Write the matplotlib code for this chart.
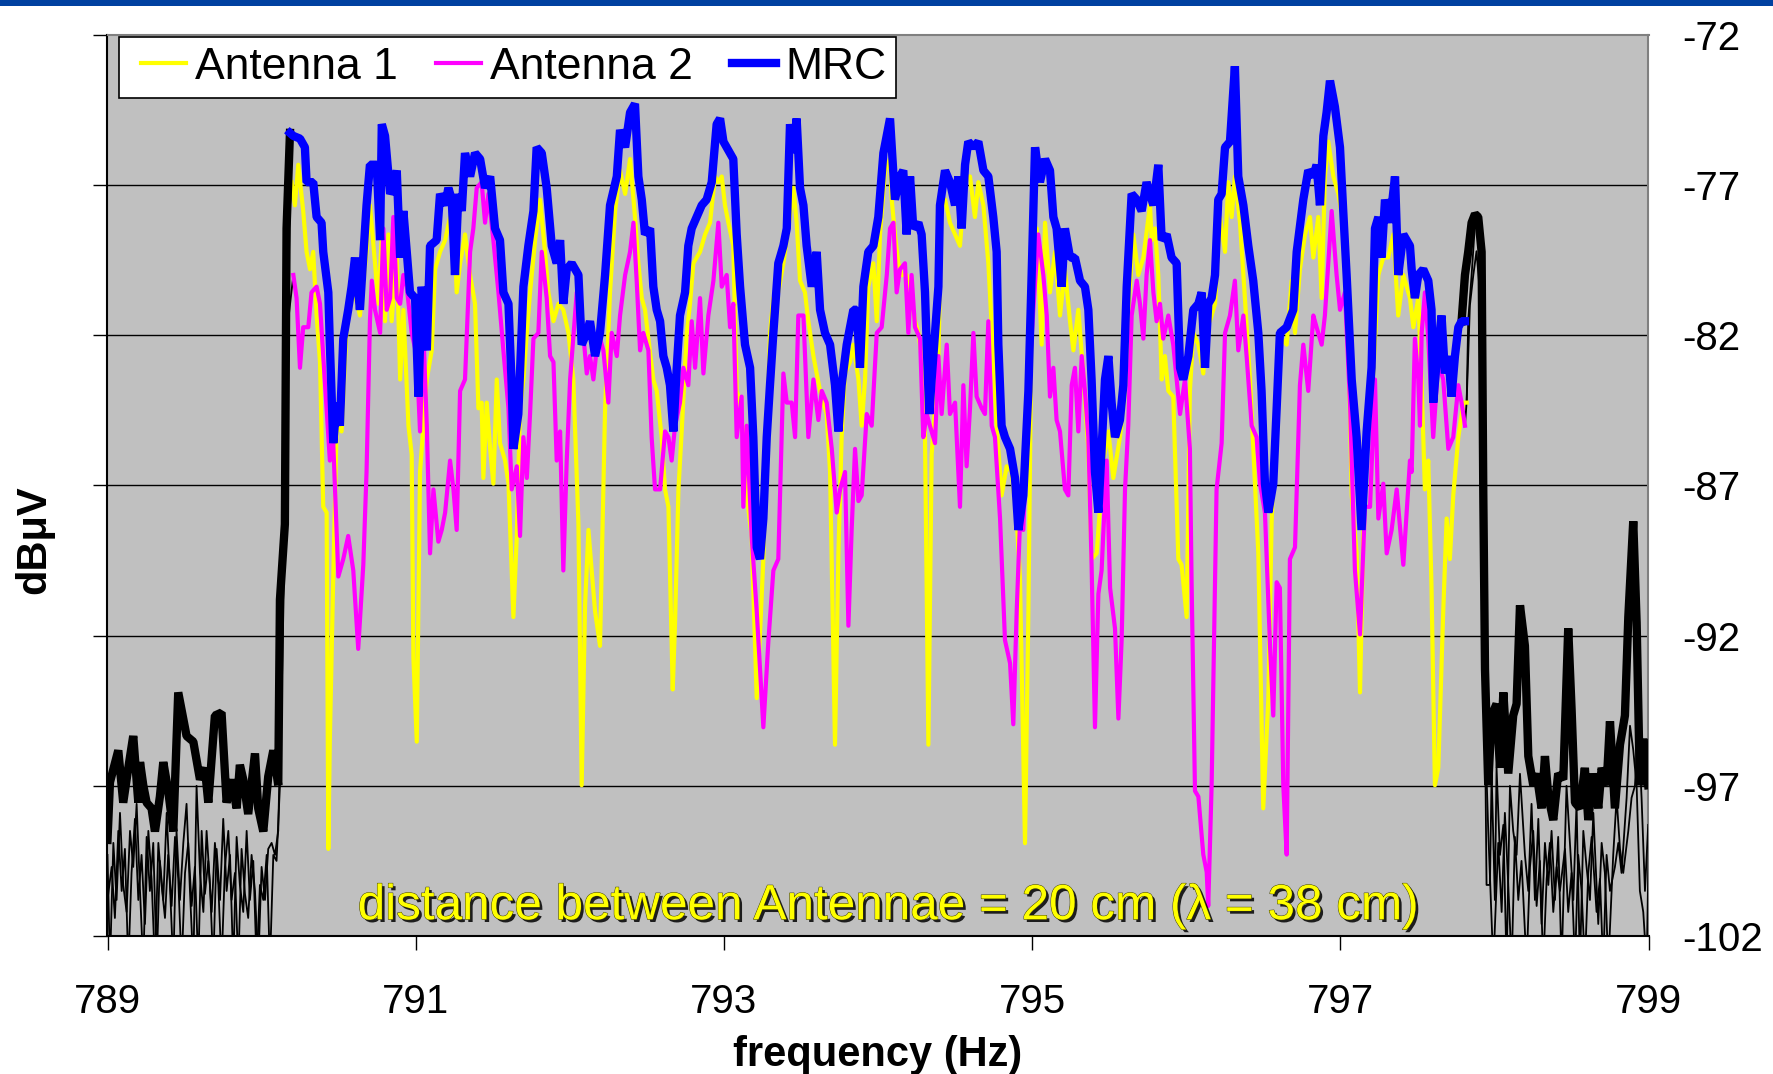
import matplotlib
matplotlib.use("Agg")
import matplotlib.pyplot as plt
import matplotlib.patheffects as pe
from matplotlib.patches import Rectangle
from matplotlib.ticker import FixedLocator
from matplotlib.legend_handler import HandlerLine2D

plt.rcParams['font.family'] = ['Liberation Sans', 'DejaVu Sans']

# ---------------- data: received level (dBuV) vs frequency (Hz) ----------------
x_ticks = [789, 791, 793, 795, 797, 799]
y_ticks = [-102, -97, -92, -87, -82, -77, -72]

# MRC, inside the signal band
mrc_f = [790.184, 790.206, 790.249, 790.281, 790.292, 790.335, 790.357, 790.389, 790.400, 790.433,
         790.443, 790.465, 790.487, 790.508, 790.530, 790.562, 790.584, 790.606, 790.638, 790.681,
         790.703, 790.747, 790.769, 790.780, 790.801, 790.834, 790.855, 790.877, 790.899, 790.920,
         790.942, 790.963, 790.996, 791.018, 791.039, 791.072, 791.093, 791.136, 791.158, 791.191,
         791.212, 791.234, 791.255, 791.277, 791.299, 791.320, 791.353, 791.385, 791.418, 791.450,
         791.483, 791.515, 791.547, 791.569, 791.602, 791.623, 791.634, 791.666, 791.699, 791.731,
         791.764, 791.785, 791.818, 791.850, 791.883, 791.915, 791.937, 791.958, 791.980, 792.012,
         792.056, 792.077, 792.110, 792.131, 792.164, 792.196, 792.229, 792.261, 792.305, 792.326,
         792.359, 792.391, 792.423, 792.445, 792.467, 792.488, 792.521, 792.542, 792.564, 792.586,
         792.607, 792.629, 792.650, 792.672, 792.694, 792.715, 792.748, 792.769, 792.791, 792.823,
         792.856, 792.888, 792.921, 792.953, 792.975, 792.997, 793.018, 793.061, 793.083, 793.105,
         793.137, 793.170, 793.191, 793.213, 793.234, 793.256, 793.278, 793.299, 793.321, 793.353,
         793.386, 793.408, 793.429, 793.451, 793.472, 793.494, 793.516, 793.537, 793.570, 793.602,
         793.624, 793.656, 793.689, 793.721, 793.743, 793.764, 793.797, 793.840, 793.862, 793.883,
         793.905, 793.937, 793.970, 794.002, 794.035, 794.078, 794.110, 794.143, 794.164, 794.186,
         794.208, 794.229, 794.262, 794.283, 794.305, 794.316, 794.333, 794.348, 794.370, 794.392,
         794.402, 794.435, 794.467, 794.500, 794.521, 794.543, 794.565, 794.586, 794.619, 794.651,
         794.684, 794.716, 794.748, 794.770, 794.781, 794.802, 794.824, 794.857, 794.889, 794.911,
         794.943, 794.976, 794.997, 795.019, 795.051, 795.084, 795.116, 795.138, 795.159, 795.192,
         795.213, 795.246, 795.278, 795.311, 795.343, 795.365, 795.386, 795.408, 795.430, 795.451,
         795.473, 795.495, 795.516, 795.538, 795.570, 795.592, 795.614, 795.646, 795.679, 795.711,
         795.743, 795.765, 795.787, 795.819, 795.841, 795.873, 795.905, 795.938, 795.960, 795.981,
         796.014, 796.046, 796.079, 796.100, 796.122, 796.143, 796.165, 796.187, 796.208, 796.230,
         796.252, 796.284, 796.316, 796.338, 796.371, 796.403, 796.435, 796.468, 796.489, 796.511,
         796.533, 796.565, 796.587, 796.608, 796.652, 796.695, 796.717, 796.760, 796.792, 796.825,
         796.846, 796.868, 796.890, 796.911, 796.933, 796.965, 796.998, 797.019, 797.041, 797.074,
         797.106, 797.138, 797.171, 797.203, 797.225, 797.247, 797.268, 797.290, 797.322, 797.355,
         797.376, 797.409, 797.452, 797.463, 797.484, 797.506, 797.538, 797.571, 797.592, 797.603,
         797.625, 797.657, 797.679, 797.701, 797.722, 797.744, 797.766, 797.787, 797.809]
mrc_db = [-75.26, -75.36, -75.45, -75.74, -76.90, -76.90, -78.06, -78.25, -79.22, -80.57,
          -82.31, -85.59, -84.24, -85.01, -82.11, -81.15, -80.38, -79.41, -81.15, -77.67,
          -76.32, -76.32, -78.83, -74.97, -75.36, -77.29, -77.09, -76.51, -79.41, -77.86,
          -79.22, -80.57, -80.76, -84.04, -80.38, -82.50, -79.02, -78.83, -77.29, -77.67,
          -77.09, -77.48, -79.99, -77.29, -77.86, -75.93, -76.71, -75.93, -76.13, -77.09,
          -76.71, -78.44, -78.83, -80.57, -80.95, -83.66, -85.78, -84.62, -80.38, -79.02,
          -77.86, -75.74, -75.93, -77.09, -79.02, -79.60, -78.83, -80.95, -79.80, -79.60,
          -79.99, -82.31, -81.92, -81.53, -82.69, -81.92, -79.99, -77.67, -76.71, -75.16,
          -75.74, -74.58, -74.29, -76.71, -77.48, -78.64, -78.44, -80.38, -81.15, -81.53,
          -82.69, -83.08, -83.66, -85.20, -83.08, -81.34, -80.57, -79.02, -78.44, -78.06,
          -77.67, -77.48, -76.90, -74.97, -74.78, -75.55, -75.74, -76.13, -78.64, -80.38,
          -82.31, -83.08, -85.39, -89.06, -89.45, -88.10, -85.39, -83.66, -81.92, -79.60,
          -79.02, -78.44, -74.97, -75.93, -74.78, -77.09, -77.67, -79.02, -80.38, -79.22,
          -81.15, -81.92, -82.31, -83.66, -85.20, -83.66, -82.31, -81.15, -81.15, -83.08,
          -80.38, -79.22, -79.02, -78.06, -75.93, -74.78, -77.48, -76.71, -76.51, -78.64,
          -76.71, -78.44, -78.25, -78.64, -80.57, -82.31, -84.62, -83.47, -81.92, -80.38,
          -77.67, -76.51, -76.90, -77.67, -76.71, -78.44, -76.32, -75.55, -75.74, -75.55,
          -76.51, -76.71, -78.06, -79.22, -82.31, -85.01, -85.39, -85.78, -86.75, -88.48,
          -87.33, -83.85, -79.99, -75.74, -76.90, -76.13, -76.51, -78.06, -78.44, -80.38,
          -78.44, -79.41, -79.41, -80.18, -80.38, -81.15, -83.47, -86.55, -87.90, -85.78,
          -83.47, -82.69, -84.24, -85.39, -84.82, -83.66, -80.38, -77.29, -77.48, -77.86,
          -76.90, -77.29, -77.67, -76.32, -78.83, -78.64, -79.41, -79.60, -83.08, -83.47,
          -82.69, -81.15, -80.95, -80.57, -83.08, -80.95, -80.76, -79.99, -77.48, -77.29,
          -75.74, -75.55, -73.04, -76.71, -77.67, -79.02, -80.18, -81.92, -83.85, -86.94,
          -87.90, -86.94, -84.43, -81.92, -81.73, -81.15, -79.22, -77.48, -76.51, -76.71,
          -76.32, -77.67, -75.36, -74.58, -73.52, -74.39, -75.74, -77.86, -79.99, -83.47,
          -85.39, -88.48, -85.20, -83.08, -78.44, -78.06, -79.41, -77.48, -78.25, -76.71,
          -79.99, -78.64, -79.02, -79.80, -80.76, -79.99, -79.80, -80.18, -81.15, -84.24,
          -82.89, -81.34, -83.27, -82.69, -84.04, -82.69, -81.73, -81.53, -81.53]

# MRC outside the band (lower and upper noise floor)
mrc_lo_f = [789.000, 789.016, 789.070, 789.102, 789.135, 789.167, 789.200, 789.211, 789.232, 789.254,
            789.286, 789.308, 789.340, 789.362, 789.394, 789.427, 789.459, 789.513, 789.557, 789.600,
            789.632, 789.654, 789.697, 789.740, 789.773, 789.805, 789.838, 789.859, 789.881, 789.913,
            789.957, 789.978, 790.011, 790.043, 790.076, 790.108, 790.119, 790.151, 790.162, 790.184]
mrc_lo_db = [-98.8, -96.88, -95.82, -97.56, -96.40, -95.34, -97.56, -96.21, -96.98, -97.56,
             -97.75, -98.52, -97.36, -96.21, -97.17, -98.52, -93.89, -95.34, -95.53, -96.79,
             -96.40, -97.56, -94.66, -94.56, -97.56, -96.79, -97.75, -96.30, -96.79, -97.94,
             -95.92, -97.75, -98.52, -96.69, -95.82, -96.98, -90.80, -88.29, -78.44, -75.26]
mrc_hi_f = [797.787, 797.809, 797.830, 797.852, 797.874, 797.895, 797.917, 797.928, 797.939, 797.960,
            797.982, 798.014, 798.036, 798.058, 798.090, 798.122, 798.144, 798.166, 798.198, 798.220,
            798.252, 798.274, 798.306, 798.328, 798.350, 798.382, 798.414, 798.447, 798.479, 798.501,
            798.523, 798.555, 798.587, 798.609, 798.642, 798.674, 798.696, 798.728, 798.750, 798.782,
            798.815, 798.847, 798.869, 798.901, 798.923, 798.944, 798.966, 798.998]
mrc_hi_db = [-81.53, -79.99, -79.22, -78.25, -77.96, -78.06, -79.22, -87.33, -93.12, -96.98,
             -94.66, -94.27, -96.40, -93.89, -96.59, -94.66, -94.27, -90.99, -92.34, -96.01,
             -96.98, -96.59, -97.75, -96.01, -97.36, -98.14, -96.59, -96.79, -91.76, -94.47,
             -97.56, -97.75, -96.40, -98.14, -96.59, -97.75, -96.40, -96.98, -94.85, -97.75,
             -95.63, -94.66, -91.38, -88.19, -91.57, -96.98, -95.43, -96.98]

# Antenna 1, inside the band
ant1_f = [790.195, 790.216, 790.238, 790.270, 790.292, 790.314, 790.335, 790.357, 790.379, 790.400,
          790.422, 790.433, 790.443, 790.465, 790.487, 790.519, 790.552, 790.595, 790.638, 790.681,
          790.703, 790.736, 790.758, 790.780, 790.801, 790.823, 790.844, 790.877, 790.899, 790.920,
          790.953, 790.974, 790.985, 791.007, 791.028, 791.072, 791.104, 791.126, 791.158, 791.191,
          791.223, 791.245, 791.266, 791.288, 791.320, 791.353, 791.385, 791.407, 791.428, 791.439,
          791.461, 791.483, 791.504, 791.526, 791.547, 791.580, 791.602, 791.634, 791.656, 791.677,
          791.699, 791.721, 791.742, 791.775, 791.807, 791.839, 791.861, 791.894, 791.926, 791.958,
          791.991, 792.023, 792.056, 792.077, 792.099, 792.121, 792.142, 792.164, 792.196, 792.229,
          792.261, 792.294, 792.326, 792.359, 792.391, 792.423, 792.445, 792.467, 792.488, 792.510,
          792.542, 792.564, 792.596, 792.618, 792.640, 792.668, 792.683, 792.705, 792.726, 792.759,
          792.780, 792.802, 792.845, 792.878, 792.910, 792.942, 792.964, 792.986, 793.007, 793.029,
          793.061, 793.083, 793.105, 793.126, 793.148, 793.180, 793.213, 793.234, 793.256, 793.278,
          793.299, 793.321, 793.353, 793.386, 793.418, 793.451, 793.472, 793.494, 793.526, 793.548,
          793.581, 793.602, 793.624, 793.667, 793.689, 793.721, 793.743, 793.764, 793.786, 793.818,
          793.840, 793.873, 793.894, 793.916, 793.937, 793.970, 793.992, 794.013, 794.046, 794.078,
          794.089, 794.110, 794.132, 794.154, 794.186, 794.208, 794.240, 794.262, 794.283, 794.305,
          794.327, 794.348, 794.370, 794.392, 794.413, 794.435, 794.467, 794.500, 794.532, 794.565,
          794.597, 794.629, 794.651, 794.684, 794.716, 794.748, 794.770, 794.802, 794.835, 794.867,
          794.900, 794.921, 794.954, 794.976, 794.997, 795.030, 795.062, 795.084, 795.116, 795.149,
          795.181, 795.213, 795.246, 795.268, 795.300, 795.332, 795.365, 795.386, 795.419, 795.441,
          795.462, 795.495, 795.527, 795.570, 795.603, 795.624, 795.657, 795.689, 795.722, 795.765,
          795.776, 795.797, 795.819, 795.841, 795.862, 795.884, 795.916, 795.949, 795.970, 796.003,
          796.024, 796.046, 796.079, 796.111, 796.133, 796.154, 796.187, 796.219, 796.252, 796.273,
          796.295, 796.316, 796.349, 796.381, 796.414, 796.446, 796.468, 796.500, 796.533, 796.554,
          796.587, 796.619, 796.652, 796.684, 796.706, 796.738, 796.771, 796.803, 796.825, 796.857,
          796.879, 796.900, 796.922, 796.955, 796.987, 797.019, 797.052, 797.074, 797.106, 797.128,
          797.149, 797.182, 797.214, 797.247, 797.279, 797.311, 797.344, 797.376, 797.409, 797.452,
          797.474, 797.506, 797.528, 797.549, 797.571, 797.592, 797.614, 797.636, 797.668, 797.690,
          797.711, 797.733, 797.766, 797.798, 797.820]
ant1_db = [-76.90, -77.67, -76.32, -77.86, -79.22, -79.80, -79.22, -81.34, -82.89, -87.71,
           -87.90, -99.10, -95.43, -90.03, -85.01, -85.20, -81.73, -80.38, -81.34, -79.22,
           -77.67, -79.60, -80.95, -78.64, -81.53, -78.64, -81.53, -79.22, -83.47, -81.15,
           -85.01, -85.97, -92.73, -95.53, -86.55, -83.47, -82.50, -79.80, -79.22, -78.83,
           -78.06, -77.86, -80.57, -79.60, -78.64, -79.99, -80.95, -84.43, -84.24, -86.75,
           -84.24, -85.78, -86.94, -83.47, -85.59, -86.17, -86.94, -91.38, -88.68, -84.43,
           -83.47, -81.92, -80.57, -78.83, -77.48, -79.22, -80.57, -81.53, -80.95, -81.15,
           -81.92, -83.47, -88.29, -96.98, -90.99, -88.48, -89.83, -91.19, -92.34, -84.43,
           -80.57, -77.86, -76.51, -77.29, -76.13, -78.06, -79.60, -80.76, -81.15, -82.11,
           -83.47, -83.85, -85.39, -87.13, -87.71, -93.79, -91.57, -87.13, -85.20, -81.92,
           -80.95, -79.60, -79.22, -78.64, -78.25, -76.71, -76.90, -76.71, -77.67, -78.25,
           -79.02, -83.85, -84.24, -85.39, -87.33, -88.68, -94.08, -91.96, -89.45, -85.39,
           -81.92, -80.76, -80.57, -79.60, -78.44, -77.09, -78.25, -80.18, -80.57, -81.53,
           -82.69, -83.27, -83.85, -84.62, -86.55, -95.63, -89.26, -85.39, -83.27, -82.89,
           -82.31, -83.47, -85.01, -83.47, -80.38, -79.60, -81.53, -78.64, -76.51, -76.13,
           -77.48, -78.64, -79.60, -79.99, -79.99, -80.38, -81.53, -81.92, -82.69, -85.39,
           -95.63, -85.97, -84.43, -82.69, -77.67, -77.48, -78.25, -78.64, -79.02, -76.71,
           -76.71, -78.06, -76.90, -77.67, -79.60, -82.69, -85.01, -87.33, -86.36, -86.55,
           -88.10, -90.03, -98.91, -91.19, -81.15, -78.44, -82.31, -78.25, -80.57, -79.22,
           -81.34, -79.80, -81.53, -82.50, -81.15, -83.27, -85.78, -89.45, -89.26, -87.71,
           -86.17, -85.20, -86.75, -85.39, -83.85, -81.15, -78.64, -79.99, -79.41, -77.67,
           -78.83, -78.44, -79.99, -83.47, -82.69, -83.85, -84.04, -89.45, -89.64, -91.38,
           -83.85, -81.92, -82.31, -83.27, -80.95, -81.53, -80.95, -78.06, -79.22, -76.90,
           -78.06, -76.71, -78.25, -80.76, -83.47, -86.94, -89.26, -97.75, -94.08, -88.29,
           -83.47, -82.11, -82.31, -80.18, -81.92, -79.80, -78.64, -78.06, -79.41, -78.06,
           -80.76, -76.71, -75.55, -76.71, -77.29, -78.25, -81.92, -87.33, -89.26, -93.89,
           -88.68, -84.04, -83.27, -79.99, -79.41, -79.41, -78.64, -81.34, -79.99, -80.76,
           -81.73, -80.76, -83.66, -87.13, -86.17, -90.41, -96.98, -96.40, -91.19, -88.10,
           -89.45, -87.33, -85.39, -84.24, -84.24]

# Antenna 2, inside the band
ant2_f = [790.206, 790.227, 790.249, 790.270, 790.303, 790.324, 790.357, 790.379, 790.400, 790.443,
          790.465, 790.498, 790.530, 790.562, 790.595, 790.627, 790.660, 790.681, 790.703, 790.715,
          790.736, 790.769, 790.790, 790.812, 790.834, 790.855, 790.877, 790.899, 790.920, 790.942,
          790.974, 791.007, 791.028, 791.050, 791.072, 791.093, 791.115, 791.147, 791.169, 791.191,
          791.223, 791.245, 791.266, 791.288, 791.320, 791.353, 791.374, 791.396, 791.428, 791.450,
          791.472, 791.504, 791.537, 791.569, 791.602, 791.623, 791.656, 791.677, 791.699, 791.721,
          791.742, 791.764, 791.796, 791.818, 791.850, 791.872, 791.894, 791.915, 791.937, 791.958,
          791.980, 792.002, 792.045, 792.077, 792.110, 792.131, 792.153, 792.186, 792.218, 792.250,
          792.272, 792.305, 792.326, 792.359, 792.391, 792.413, 792.434, 792.456, 792.477, 792.510,
          792.531, 792.553, 792.586, 792.618, 792.640, 792.661, 792.683, 792.715, 792.737, 792.769,
          792.791, 792.813, 792.845, 792.867, 792.899, 792.932, 792.964, 792.986, 793.018, 793.040,
          793.061, 793.083, 793.115, 793.126, 793.148, 793.180, 793.213, 793.256, 793.289, 793.321,
          793.353, 793.386, 793.408, 793.440, 793.462, 793.483, 793.516, 793.548, 793.581, 793.613,
          793.635, 793.667, 793.700, 793.732, 793.754, 793.786, 793.808, 793.829, 793.851, 793.873,
          793.894, 793.927, 793.959, 793.992, 794.024, 794.057, 794.078, 794.100, 794.121, 794.143,
          794.175, 794.197, 794.218, 794.240, 794.273, 794.294, 794.316, 794.337, 794.370, 794.392,
          794.413, 794.446, 794.467, 794.500, 794.532, 794.554, 794.575, 794.597, 794.619, 794.640,
          794.673, 794.694, 794.716, 794.738, 794.759, 794.792, 794.824, 794.857, 794.878, 794.900,
          794.921, 794.943, 794.976, 795.008, 795.040, 795.073, 795.095, 795.116, 795.138, 795.159,
          795.181, 795.213, 795.235, 795.257, 795.278, 795.300, 795.322, 795.343, 795.365, 795.386,
          795.408, 795.430, 795.451, 795.484, 795.506, 795.538, 795.560, 795.581, 795.603, 795.624,
          795.646, 795.679, 795.700, 795.722, 795.743, 795.765, 795.787, 795.808, 795.830, 795.851,
          795.884, 795.916, 795.938, 795.960, 795.992, 796.024, 796.035, 796.057, 796.079, 796.111,
          796.133, 796.143, 796.165, 796.197, 796.230, 796.252, 796.284, 796.316, 796.338, 796.371,
          796.392, 796.425, 796.457, 796.479, 796.511, 796.544, 796.565, 796.587, 796.608, 796.630,
          796.652, 796.673, 796.706, 796.738, 796.760, 796.792, 796.825, 796.846, 796.879, 796.900,
          796.922, 796.944, 796.976, 796.998, 797.030, 797.063, 797.095, 797.128, 797.160, 797.193,
          797.225, 797.247, 797.279, 797.301, 797.333, 797.366, 797.409, 797.452, 797.463, 797.484,
          797.506, 797.517, 797.528, 797.549, 797.571, 797.603, 797.636, 797.668, 797.701, 797.733,
          797.766, 797.787, 797.809]
ant2_db = [-79.99, -80.76, -83.08, -81.73, -81.73, -80.57, -80.38, -80.95, -82.69, -86.17,
           -85.59, -90.03, -89.45, -88.68, -89.83, -92.44, -89.64, -86.55, -81.53, -80.18,
           -81.15, -81.92, -78.44, -81.15, -80.76, -78.06, -80.76, -80.95, -79.99, -80.38,
           -81.92, -82.69, -85.20, -81.92, -85.01, -89.26, -87.13, -88.87, -88.48, -87.90,
           -86.17, -87.13, -88.48, -83.85, -83.47, -79.22, -78.44, -77.09, -76.90, -78.25,
           -77.29, -78.83, -80.57, -82.50, -84.43, -87.13, -86.36, -88.68, -85.39, -86.75,
           -84.62, -82.11, -81.92, -79.22, -80.76, -82.69, -82.89, -86.17, -85.20, -89.83,
           -86.17, -83.47, -80.57, -81.34, -83.27, -82.69, -83.47, -81.92, -82.50, -84.24,
           -81.92, -82.69, -81.34, -79.99, -79.22, -78.25, -80.18, -82.50, -81.92, -82.50,
           -85.39, -87.13, -87.13, -85.20, -85.39, -86.17, -85.01, -84.24, -83.08, -83.66,
           -81.53, -83.08, -80.76, -83.27, -81.34, -80.18, -78.25, -80.38, -79.99, -81.73,
           -80.95, -85.39, -84.04, -87.71, -85.01, -88.68, -91.19, -95.05, -92.15, -89.83,
           -89.45, -83.27, -84.24, -84.24, -85.39, -81.34, -81.34, -85.39, -83.47, -84.82,
           -83.85, -84.24, -85.78, -87.90, -87.13, -86.55, -91.67, -88.48, -85.78, -87.52,
           -87.33, -84.62, -85.01, -81.92, -81.73, -79.99, -78.44, -78.25, -80.57, -79.80,
           -79.60, -81.92, -79.99, -81.73, -82.11, -85.39, -84.62, -85.01, -85.59, -82.69,
           -84.62, -82.31, -84.62, -84.24, -87.71, -83.66, -86.36, -84.43, -81.92, -84.04,
           -84.43, -84.62, -81.53, -85.01, -85.39, -88.10, -92.15, -92.92, -94.95, -91.19,
           -88.29, -88.48, -83.85, -81.15, -78.64, -79.99, -81.34, -84.04, -83.08, -84.82,
           -85.20, -87.13, -87.33, -83.66, -83.08, -85.20, -82.69, -83.85, -85.39, -89.64,
           -95.05, -90.61, -89.83, -86.17, -90.41, -91.76, -94.76, -92.15, -87.13, -85.01,
           -81.34, -80.18, -80.95, -82.11, -79.99, -78.83, -80.57, -81.53, -80.95, -82.11,
           -81.34, -82.31, -83.47, -84.62, -83.47, -85.78, -90.22, -97.17, -97.36, -99.29,
           -99.87, -101.0, -96.98, -87.13, -85.59, -81.92, -81.34, -80.18, -82.50, -81.34,
           -82.69, -85.01, -85.39, -86.94, -87.90, -92.34, -94.66, -90.22, -90.41, -96.98,
           -99.29, -89.45, -89.06, -83.66, -82.31, -83.85, -81.34, -81.73, -82.31, -81.34,
           -79.60, -77.86, -79.99, -81.15, -80.57, -84.24, -89.83, -91.96, -87.71, -87.71,
           -83.47, -88.10, -86.94, -89.26, -88.48, -87.13, -89.64, -86.17, -86.55, -82.11,
           -83.47, -85.01, -81.92, -80.57, -82.11, -85.39, -82.89, -83.47, -85.78, -85.39,
           -83.66, -84.24, -85.01]

# Antenna 1 / Antenna 2 outside the band (lower side)
ant1_lo_f = [789.000, 789.016, 789.038, 789.059, 789.081, 789.102, 789.124, 789.146, 789.167, 789.189,
             789.211, 789.232, 789.254, 789.275, 789.297, 789.319, 789.340, 789.362, 789.384, 789.405,
             789.427, 789.448, 789.470, 789.492, 789.513, 789.535, 789.557, 789.578, 789.600, 789.622,
             789.643, 789.665, 789.686, 789.708, 789.730, 789.751, 789.773, 789.795, 789.816, 789.838,
             789.859, 789.881, 789.903, 789.924, 789.946, 789.968, 789.989, 790.011, 790.033, 790.054,
             790.076, 790.097, 790.119, 790.141, 790.162, 790.184, 790.195]
ant1_lo_db = [-99.3, -103.0, -98.9, -100.8, -97.9, -100.3, -101.2, -98.5, -99.7, -97.6,
              -100.5, -103.0, -98.7, -100.5, -98.9, -103.0, -99.5, -100.8, -97.9, -100.3,
              -103.0, -98.5, -100.8, -98.9, -97.6, -100.5, -103.0, -97.0, -99.9, -101.2,
              -98.5, -100.3, -103.0, -99.1, -100.8, -98.1, -100.5, -99.3, -103.0, -98.7,
              -100.3, -101.2, -98.5, -100.8, -99.5, -103.0, -100.3, -100.8, -99.3, -103.0,
              -99.3, -99.5, -97.0, -91.2, -83.5, -77.7, -76.9]
ant2_lo_f = [789.000, 789.027, 789.048, 789.070, 789.092, 789.113, 789.135, 789.156, 789.178, 789.200,
             789.221, 789.243, 789.265, 789.286, 789.308, 789.330, 789.351, 789.373, 789.394, 789.416,
             789.438, 789.459, 789.481, 789.503, 789.524, 789.546, 789.567, 789.589, 789.611, 789.632,
             789.654, 789.676, 789.697, 789.719, 789.740, 789.762, 789.784, 789.805, 789.827, 789.849,
             789.870, 789.892, 789.913, 789.935, 789.957, 789.978, 790.000, 790.022, 790.043, 790.065,
             790.087, 790.108, 790.130, 790.151, 790.173, 790.206]
ant2_lo_db = [-100.8, -99.7, -101.4, -98.5, -100.5, -99.1, -103.0, -99.9, -98.1, -100.8,
              -99.3, -101.6, -98.5, -100.1, -103.0, -98.9, -100.3, -101.4, -99.3, -101.0,
              -98.7, -100.1, -103.0, -99.9, -98.9, -101.0, -99.7, -103.0, -98.5, -100.6,
              -99.5, -101.2, -98.9, -100.3, -103.0, -99.7, -98.5, -100.8, -99.9, -103.0,
              -99.1, -100.6, -101.4, -99.3, -100.5, -103.0, -99.7, -100.8, -99.1, -98.9,
              -99.3, -98.5, -93.1, -87.3, -81.5, -79.99]

# Antenna 1 / Antenna 2 outside the band (upper side)
ant1_hi_f = [797.820, 797.830, 797.852, 797.874, 797.895, 797.917, 797.928, 797.949, 797.971, 797.982,
             798.003, 798.014, 798.036, 798.058, 798.079, 798.101, 798.122, 798.144, 798.166, 798.198,
             798.220, 798.241, 798.263, 798.285, 798.306, 798.328, 798.350, 798.371, 798.393, 798.414,
             798.436, 798.468, 798.490, 798.512, 798.533, 798.555, 798.577, 798.598, 798.620, 798.642,
             798.674, 798.696, 798.717, 798.739, 798.771, 798.793, 798.815, 798.836, 798.869, 798.890,
             798.912, 798.934, 798.955, 798.977, 798.998]
ant1_hi_db = [-84.24, -81.5, -80.0, -78.3, -78.6, -81.5, -89.3, -100.3, -100.3, -96.6,
              -100.8, -96.4, -99.3, -98.3, -103.0, -97.0, -98.5, -99.3, -96.6, -99.3,
              -100.5, -97.6, -100.8, -98.1, -101.6, -98.9, -100.3, -98.5, -100.8, -98.7,
              -103.0, -97.0, -98.9, -100.8, -97.6, -103.0, -98.5, -99.7, -100.8, -97.9,
              -101.6, -98.9, -99.9, -103.0, -99.3, -97.4, -99.1, -99.9, -98.5, -97.4,
              -97.0, -95.0, -97.4, -100.5, -98.3]
ant2_hi_f = [797.809, 797.820, 797.841, 797.863, 797.884, 797.906, 797.923, 797.939, 797.960, 797.993,
             798.025, 798.047, 798.068, 798.090, 798.112, 798.133, 798.155, 798.176, 798.209, 798.231,
             798.252, 798.274, 798.295, 798.317, 798.339, 798.360, 798.382, 798.404, 798.425, 798.458,
             798.479, 798.501, 798.523, 798.544, 798.566, 798.587, 798.609, 798.631, 798.663, 798.685,
             798.706, 798.728, 798.750, 798.782, 798.804, 798.825, 798.858, 798.880, 798.901, 798.923,
             798.944, 798.966, 798.988, 799.005]
ant2_hi_db = [-85.01, -84.2, -81.0, -80.0, -79.2, -80.6, -85.4, -95.0, -98.5, -103.0,
              -98.9, -101.2, -97.9, -100.3, -103.0, -98.7, -100.8, -99.5, -103.0, -99.7,
              -98.5, -101.0, -99.5, -103.0, -100.1, -98.9, -101.2, -99.7, -100.5, -99.1,
              -101.2, -99.9, -103.0, -99.3, -100.5, -103.0, -99.9, -98.7, -101.2, -100.1,
              -103.0, -99.3, -100.5, -99.7, -98.9, -99.9, -97.4, -95.0, -95.8, -97.0,
              -100.5, -101.2, -103.0, -97.9]

caption = "distance between Antennae = 20 cm (\u03bb = 38 cm)"

# ---------------- figure ----------------
W, H = 1774, 1074
fig = plt.figure(figsize=(W / 100, H / 100), dpi=100, facecolor='white')

# blue strip across the top edge
fig.patches.append(Rectangle((0, 1 - 6 / H), 1, 6 / H, transform=fig.transFigure,
                             facecolor='#0041A0', edgecolor='none', zorder=0))

ax = fig.add_axes([107.5 / W, 1 - 936 / H, 1541 / W, 901 / H])
ax.set_facecolor('#C0C0C0')

thin_black = dict(color='black', lw=1.3, zorder=3)
ax.plot(ant1_lo_f, ant1_lo_db, **thin_black)
ax.plot(ant2_lo_f, ant2_lo_db, **thin_black)
ax.plot(ant1_hi_f, ant1_hi_db, **thin_black)
ax.plot(ant2_hi_f, ant2_hi_db, **thin_black)

ax.plot(ant1_f, ant1_db, color='#FFFF00', lw=3.0, label='Antenna 1', zorder=4)
ax.plot(ant2_f, ant2_db, color='#FF00FF', lw=3.0, label='Antenna 2', zorder=5)
ax.plot(mrc_lo_f, mrc_lo_db, color='black', lw=6.0, zorder=6, solid_joinstyle='bevel')
ax.plot(mrc_hi_f, mrc_hi_db, color='black', lw=6.0, zorder=6, solid_joinstyle='bevel')
ax.plot(mrc_f, mrc_db, color='#0000FF', lw=6.0, label='MRC', zorder=7, solid_joinstyle='bevel')

ax.set_xlim(789, 799)
ax.set_ylim(-102, -72)
ax.xaxis.set_major_locator(FixedLocator(x_ticks))
ax.yaxis.set_major_locator(FixedLocator(y_ticks))
ax.set_xticklabels([str(v) for v in x_ticks])
ax.set_yticklabels([str(v) for v in y_ticks])

ax.set_axisbelow(True)
ax.grid(axis='y', color='black', lw=1.0)
ax.grid(axis='x', visible=False)
ygl = ax.yaxis.get_gridlines()
ygl[0].set_visible(False)
ygl[-1].set_visible(False)

ax.tick_params(axis='x', direction='out', length=10, width=1.0, pad=23.5,
               labelsize=29, colors='black')
ax.tick_params(axis='y', direction='out', length=10, width=1.0, pad=14,
               left=True, right=False, labelleft=False, labelright=True,
               labelsize=29, colors='black')

for side in ('left', 'bottom'):
    ax.spines[side].set_color('black')
    ax.spines[side].set_linewidth(1.5)
for side in ('top', 'right'):
    ax.spines[side].set_color('#808080')
    ax.spines[side].set_linewidth(1.5)

ax.set_xlabel('frequency (Hz)', fontsize=30, fontweight='bold')
ax.xaxis.set_label_coords(0.5, (936 - 1066) / 901)
ax.xaxis.label.set_va('baseline')
ax.set_ylabel('dB\u03bcV', fontsize=30, fontweight='bold')
ax.yaxis.set_label_position('left')
ax.yaxis.set_label_coords((34 - 107.5) / 1541, (936 - 540) / 901)
ax.yaxis.label.set_va('center')

ax.text(0.5063, 0.0325, caption, transform=ax.transAxes, ha='center', va='center',
        fontsize=35.6, color='#FFFF00', zorder=10,
        path_effects=[pe.SimplePatchShadow(offset=(2.0, -2.0), shadow_rgbFace='black', alpha=0.85),
                      pe.Stroke(linewidth=0.7, foreground='#404000'), pe.Normal()])

# legend: handle lines start a little inside the frame
pad_em = 0.28
leg = ax.legend(loc='upper left', bbox_to_anchor=(11.5 / 1541, 1 - 2 / 901), ncol=3,
                fontsize=32, frameon=True, fancybox=False, framealpha=1,
                edgecolor='black', borderaxespad=0, borderpad=0.22,
                handlelength=1.0 + pad_em, handletextpad=0.2, columnspacing=0.6,
                handler_map={matplotlib.lines.Line2D: HandlerLine2D(xpad=pad_em)})
leg.get_frame().set_linewidth(1.2)
leg.set_zorder(20)

fig.savefig('out.png', dpi=100, facecolor='white')
